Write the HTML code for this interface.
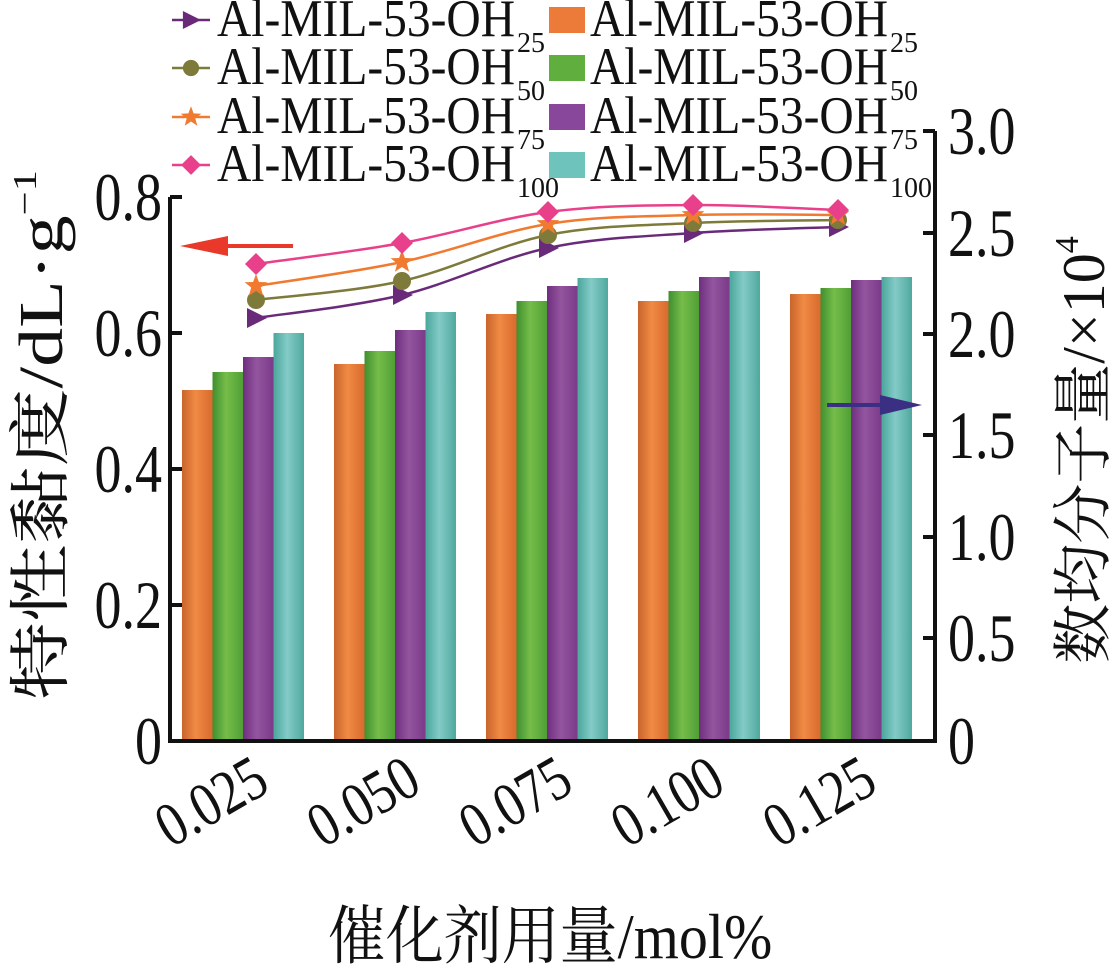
<!DOCTYPE html>
<html><head><meta charset="utf-8"><style>
html,body{margin:0;padding:0;background:#fff;}
svg{display:block;}
text{font-family:"Liberation Serif","Noto Serif CJK SC",serif;fill:#111;}
</style></head><body>
<svg id="s" width="1113" height="964" viewBox="0 0 1113 964" xmlns="http://www.w3.org/2000/svg">
<defs>
<linearGradient id="gO" x1="0" x2="1"><stop offset="0" stop-color="#c8652c"/><stop offset="0.45" stop-color="#f08a44"/><stop offset="1" stop-color="#d86a2e"/></linearGradient>
<linearGradient id="gG" x1="0" x2="1"><stop offset="0" stop-color="#3f8f2f"/><stop offset="0.45" stop-color="#76bd4a"/><stop offset="1" stop-color="#4f9f35"/></linearGradient>
<linearGradient id="gP" x1="0" x2="1"><stop offset="0" stop-color="#6e2e7e"/><stop offset="0.45" stop-color="#94559f"/><stop offset="1" stop-color="#7a3a88"/></linearGradient>
<linearGradient id="gT" x1="0" x2="1"><stop offset="0" stop-color="#4aa69c"/><stop offset="0.45" stop-color="#84cbc6"/><stop offset="1" stop-color="#4fa89e"/></linearGradient>
</defs>
<g id="bars"></g>
<g id="lines"></g>
<g stroke="#111" stroke-width="4" fill="none">
<polyline points="170,197 170,741 935,741 935,131"/>
<line x1="170" y1="197" x2="182" y2="197"/>
<line x1="170" y1="333" x2="182" y2="333"/>
<line x1="170" y1="469" x2="182" y2="469"/>
<line x1="170" y1="605" x2="182" y2="605"/>
<line x1="923" y1="131" x2="935" y2="131"/>
<line x1="923" y1="233" x2="935" y2="233"/>
<line x1="923" y1="334" x2="935" y2="334"/>
<line x1="923" y1="435" x2="935" y2="435"/>
<line x1="923" y1="537" x2="935" y2="537"/>
<line x1="923" y1="638" x2="935" y2="638"/>
</g>
<line x1="293" y1="246" x2="215" y2="246" stroke="#e8392a" stroke-width="4"/>
<polygon points="180,246 228,236 228,256" fill="#e8392a"/>
<line x1="827" y1="405" x2="890" y2="405" stroke="#3a2f82" stroke-width="4"/>
<polygon points="922,405 880,395 880,415" fill="#3a2f82"/>
<g font-size="54" text-anchor="end">
<text transform="translate(162,220) scale(1,1.25)">0.8</text>
<text transform="translate(162,356) scale(1,1.25)">0.6</text>
<text transform="translate(162,492) scale(1,1.25)">0.4</text>
<text transform="translate(162,628) scale(1,1.25)">0.2</text>
<text transform="translate(162,764) scale(1,1.25)">0</text>
</g>
<g font-size="54" text-anchor="start">
<text transform="translate(948,154) scale(1,1.25)">3.0</text>
<text transform="translate(948,256) scale(1,1.25)">2.5</text>
<text transform="translate(948,357) scale(1,1.25)">2.0</text>
<text transform="translate(948,458) scale(1,1.25)">1.5</text>
<text transform="translate(948,560) scale(1,1.25)">1.0</text>
<text transform="translate(948,661) scale(1,1.25)">0.5</text>
<text transform="translate(948,764) scale(1,1.25)">0</text>
</g>
<g font-size="52" text-anchor="end">
<text transform="translate(272,790) rotate(-30) scale(1,1.2)">0.025</text>
<text transform="translate(424,790) rotate(-30) scale(1,1.2)">0.050</text>
<text transform="translate(576,790) rotate(-30) scale(1,1.2)">0.075</text>
<text transform="translate(728,790) rotate(-30) scale(1,1.2)">0.100</text>
<text transform="translate(880,790) rotate(-30) scale(1,1.2)">0.125</text>
</g>
<text transform="translate(550,958) scale(1,1.1)" font-size="58" text-anchor="middle">催化剂用量/mol%</text>
<text transform="translate(62,435) rotate(-90)" font-size="62" text-anchor="middle" textLength="530" lengthAdjust="spacingAndGlyphs">特性黏度/dL·g<tspan dy="-26" font-size="34">−1</tspan></text>
<text transform="translate(1104,450) rotate(-90)" font-size="60" text-anchor="middle">数均分子量/×10<tspan dy="-26" font-size="34">4</tspan></text>
<g id="legend"></g>
</svg>
<script>
var NS="http://www.w3.org/2000/svg";
function el(t,a,p){var e=document.createElementNS(NS,t);for(var k in a)e.setAttribute(k,a[k]);(p||document.getElementById('s')).appendChild(e);return e;}
var bars=document.getElementById('bars');
var tops=[[390,372,357,333],[364,351,330,312],[314,301,286,278],[301,291,277,271],[294,288,280,277]];
var grads=['gO','gG','gP','gT'];
for(var g=0;g<5;g++){var x0=182+152*g;for(var i=0;i<4;i++){el('rect',{x:x0+i*30.5,y:tops[g][i],width:30.5,height:741-tops[g][i],fill:'url(#'+grads[i]+')'},bars);}}
var xs=[256,402,548,693,838];
var series=[
 {c:'#6a2a7a',m:'tri',y:[318,295,248,233,227]},
 {c:'#7d7a3a',m:'cir',y:[300,281,235,223,220]},
 {c:'#f07a30',m:'star',y:[286,262,224,215,215]},
 {c:'#e8408a',m:'dia',y:[264,243,212,205,210]}];
var lines=document.getElementById('lines');
function marker(m,x,y,c,par,sc){sc=sc||1;
 if(m=='tri')el('polygon',{points:(x-9*sc)+','+(y-10*sc)+' '+(x+11*sc)+','+y+' '+(x-9*sc)+','+(y+10*sc),fill:c},par);
 if(m=='cir')el('circle',{cx:x,cy:y,r:9*sc,fill:c},par);
 if(m=='dia')el('polygon',{points:x+','+(y-11*sc)+' '+(x+11*sc)+','+y+' '+x+','+(y+11*sc)+' '+(x-11*sc)+','+y,fill:c},par);
 if(m=='star'){var p=[];for(var k=0;k<10;k++){var r=k%2?5*sc:12*sc,a=-Math.PI/2+k*Math.PI/5;p.push((x+r*Math.cos(a)).toFixed(1)+','+(y+r*Math.sin(a)).toFixed(1));}el('polygon',{points:p.join(' '),fill:c},par);}
}
series.forEach(function(s){
 var P=xs.map(function(x,i){return[x,s.y[i]];});
 var d='M'+P[0][0]+','+P[0][1];
 for(var i=0;i<P.length-1;i++){var p0=P[i-1]||P[i],p1=P[i],p2=P[i+1],p3=P[i+2]||P[i+1];
  var c1=[p1[0]+(p2[0]-p0[0])/6,p1[1]+(p2[1]-p0[1])/6],c2=[p2[0]-(p3[0]-p1[0])/6,p2[1]-(p3[1]-p1[1])/6];
  d+=' C'+c1+' '+c2+' '+p2;}
 el('path',{d:d,stroke:s.c,'stroke-width':2.5,fill:'none'},lines);
 P.forEach(function(p){marker(s.m,p[0],p[1],s.c,lines);});
});
var lg=document.getElementById('legend');
var rows=[20,68,117,165],subs=['25','50','75','100'];
var bcol=['#ec7a38','#5fae3e','#88479a','#6fc3bd'];
for(var r=0;r<4;r++){var y=rows[r];var s=series[r];
 el('line',{x1:172,y1:y,x2:210,y2:y,stroke:s.c,'stroke-width':2.5},lg);
 marker(s.m,191,y,s.c,lg,0.9);
 var t=el('text',{transform:'translate(217,'+(y+16)+') scale(1,1.15)','font-size':46,textLength:298,lengthAdjust:'spacingAndGlyphs'},lg);t.textContent='Al-MIL-53-OH';
 var u=el('text',{x:517,y:y+32,'font-size':28},lg);u.textContent=subs[r];
 el('rect',{x:549,y:y-13,width:36,height:26,fill:bcol[r]},lg);
 var t2=el('text',{transform:'translate(590,'+(y+16)+') scale(1,1.15)','font-size':46,textLength:298,lengthAdjust:'spacingAndGlyphs'},lg);t2.textContent='Al-MIL-53-OH';
 var u2=el('text',{x:890,y:y+32,'font-size':28},lg);u2.textContent=subs[r];
}
</script>
</body></html>
